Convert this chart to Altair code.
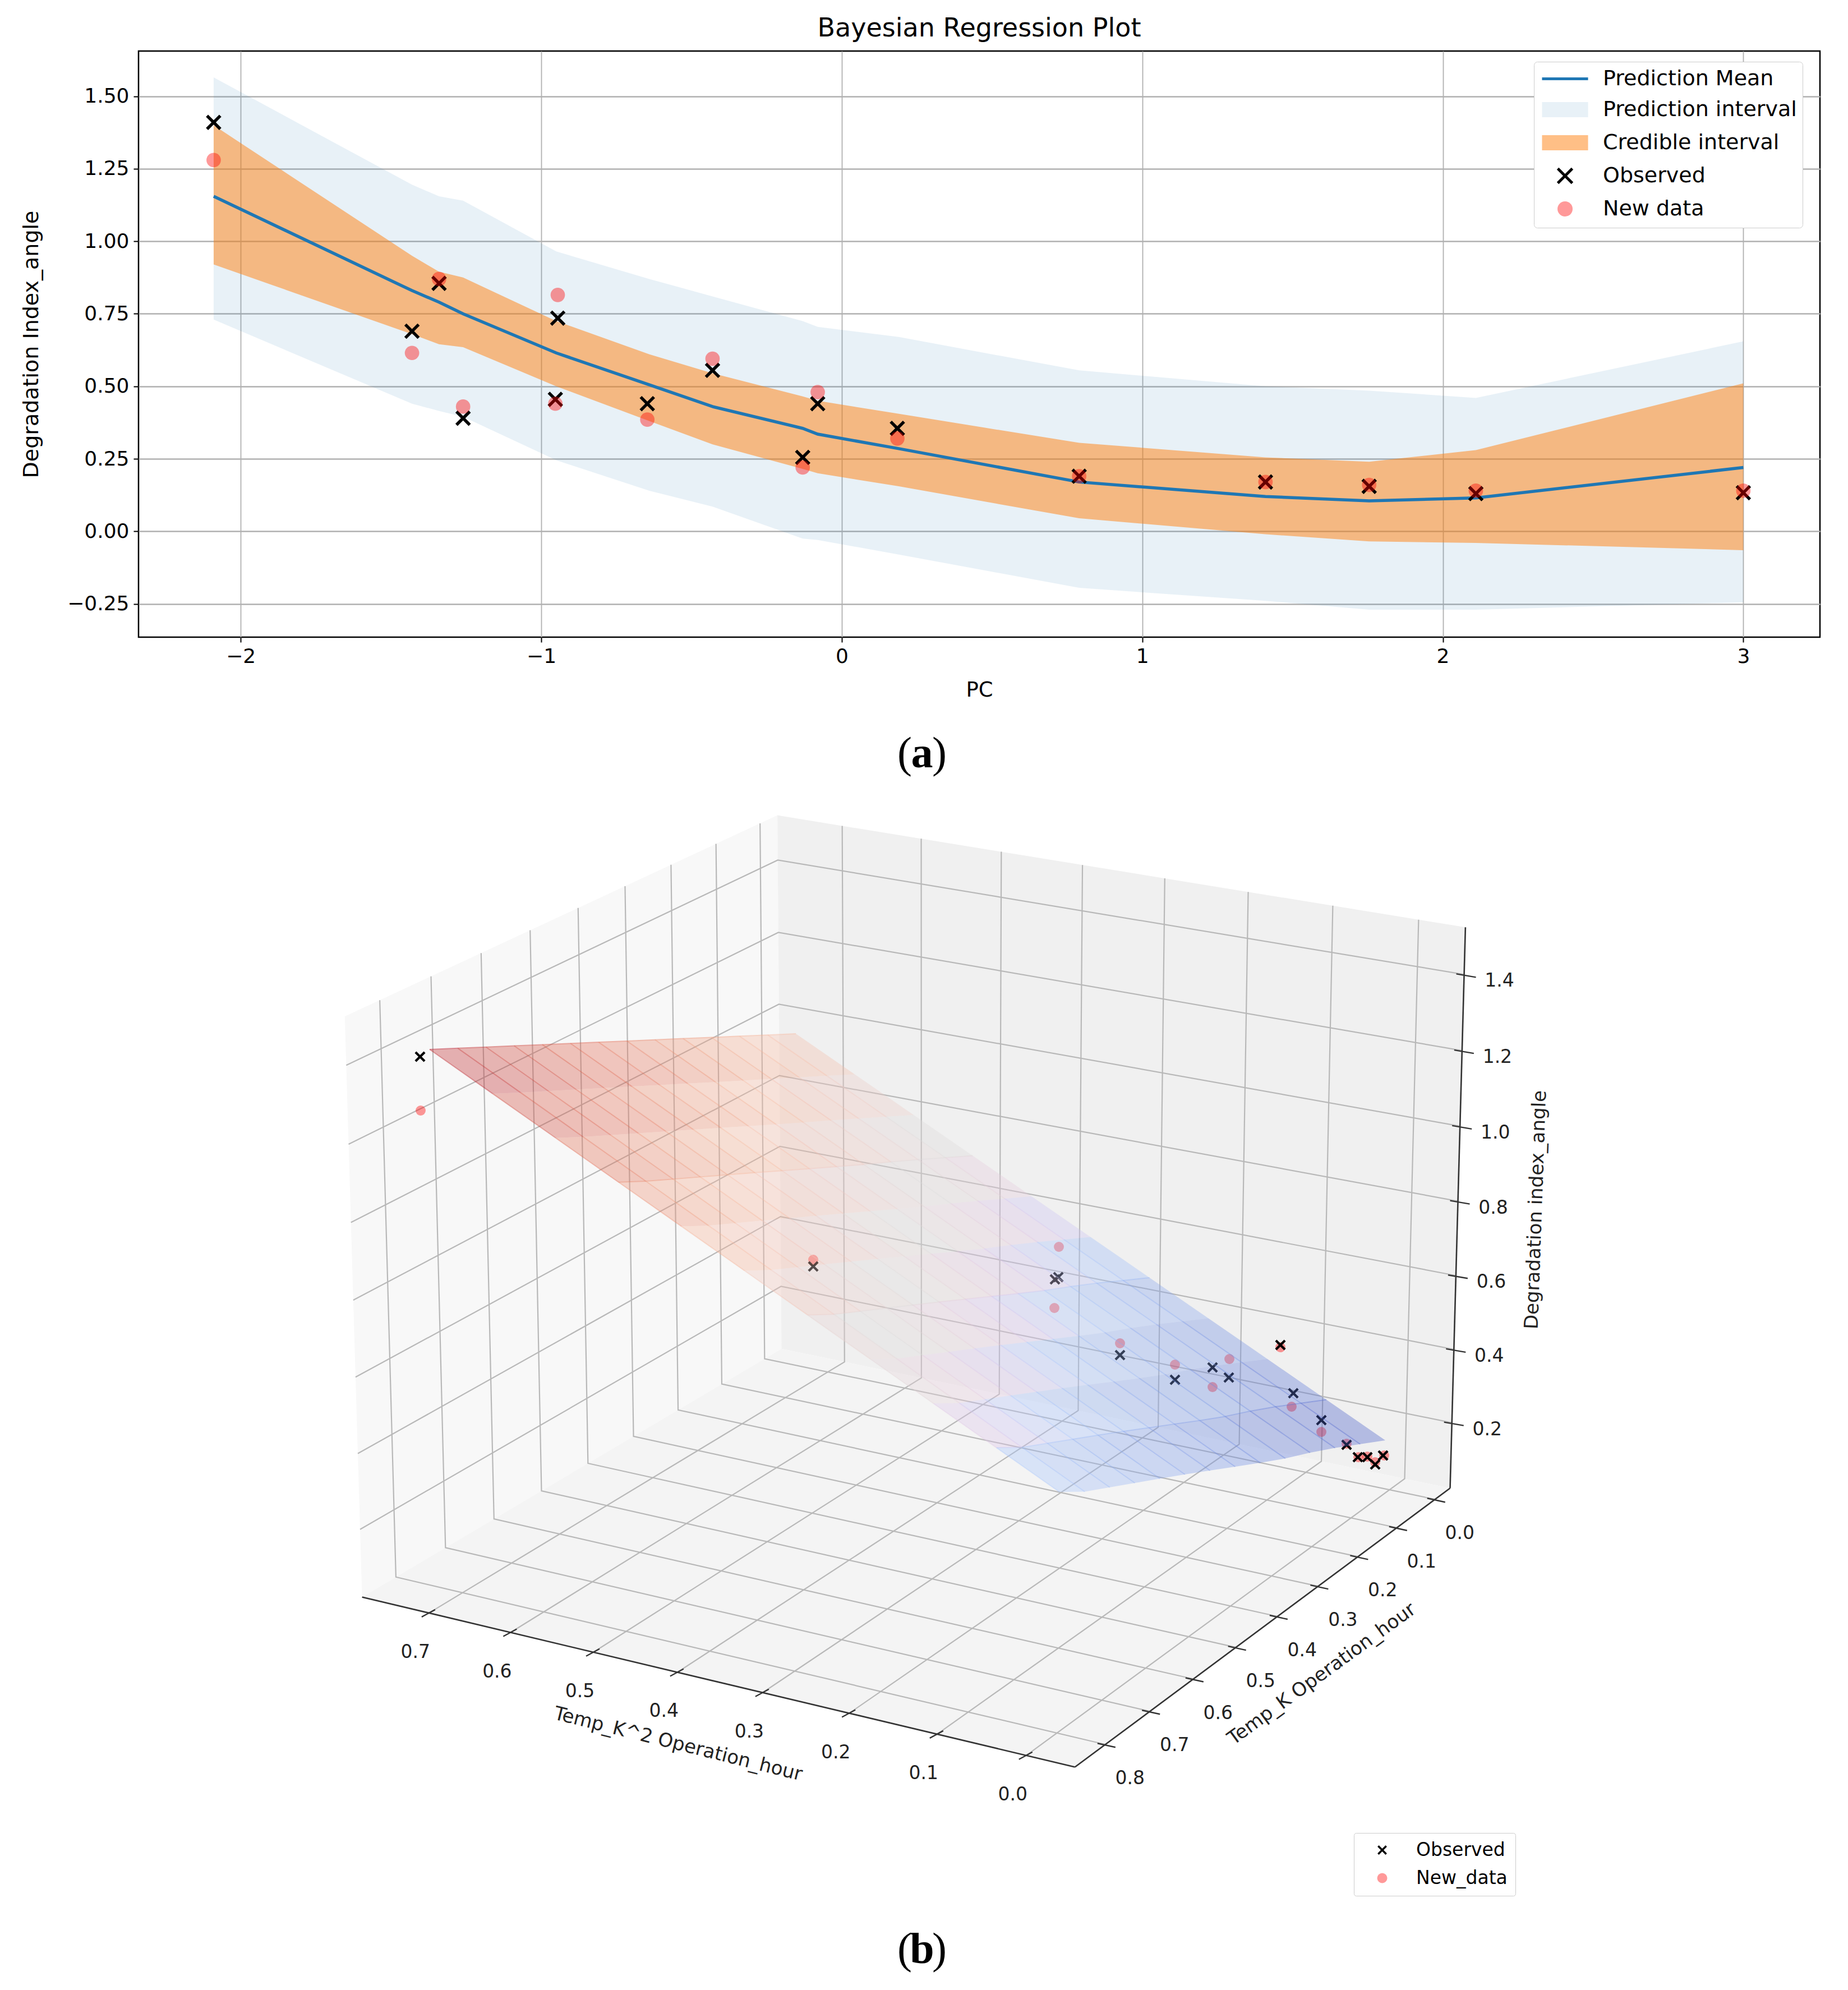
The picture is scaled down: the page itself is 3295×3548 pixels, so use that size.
import altair as alt
import numpy as np
import pandas as pd

alt.data_transformers.disable_max_rows()

# ---------- panel (a) ----------
band_pc = [-2.09, -1.43, -1.34, -1.26, -0.95, -0.64, -0.43, -0.13, -0.08, 0.19, 0.79, 1.41, 1.755, 2.11, 3.0]
mean_y = [1.155, 0.83, 0.79, 0.75, 0.615, 0.505, 0.43, 0.355, 0.335, 0.285, 0.17, 0.12, 0.105, 0.115, 0.22]
cred_hi = [1.40, 0.95, 0.895, 0.875, 0.725, 0.61, 0.545, 0.465, 0.45, 0.405, 0.305, 0.255, 0.24, 0.28, 0.51]
cred_lo = [0.92, 0.68, 0.645, 0.635, 0.50, 0.38, 0.30, 0.215, 0.20, 0.155, 0.045, -0.01, -0.035, -0.04, -0.065]
pred_hi = [1.565, 1.195, 1.155, 1.14, 0.965, 0.87, 0.81, 0.725, 0.705, 0.67, 0.555, 0.50, 0.485, 0.46, 0.655]
pred_lo = [0.73, 0.44, 0.415, 0.395, 0.245, 0.14, 0.085, -0.025, -0.03, -0.08, -0.195, -0.24, -0.27, -0.27, -0.245]
point_pc = [-2.09, -1.43, -1.34, -1.26, -0.945, -0.953, -0.647, -0.43, -0.13, -0.08, 0.185, 0.79, 1.41, 1.755, 2.11, 3.0]
observed_y = [1.41, 0.69, 0.855, 0.39, 0.735, 0.455, 0.44, 0.555, 0.255, 0.44, 0.355, 0.19, 0.17, 0.155, 0.13, 0.133]
new_y = [1.28, 0.615, 0.87, 0.43, 0.815, 0.44, 0.385, 0.595, 0.22, 0.48, 0.32, 0.19, 0.17, 0.16, 0.14, 0.14]
xticks_a = [-2, -1, 0, 1, 2, 3]
yticks_a = [-0.25, 0, 0.25, 0.5, 0.75, 1.0, 1.25, 1.5]

# ---------- panel (b): 3D box and what lies in it ----------
x_lim = [-0.054, 0.783]
y_lim = [-0.04, 0.867]
z_lim = [0.02, 1.523]
x_ticks = [0.0, 0.1, 0.2, 0.3, 0.4, 0.5, 0.6, 0.7]
y_ticks = [0.0, 0.1, 0.2, 0.3, 0.4, 0.5, 0.6, 0.7, 0.8]
z_ticks = [0.2, 0.4, 0.6, 0.8, 1.0, 1.2, 1.4]
# where the corners of the box fall in the picture plane
corner_world = [(0.783, 0.867, 0.02), (-0.054, 0.867, 0.02), (-0.054, -0.04, 0.02), (0.783, -0.04, 0.02),
                (0.783, 0.867, 1.523), (-0.054, -0.04, 1.523), (0.783, -0.04, 1.523)]
corner_plane = [(646, 2848), (1917, 3147), (2586, 2653), (1396, 2400), (617, 1809), (2615, 1651), (1385, 1453)]

# observed and new data, read in the picture plane of the 3D view
obs_u = [750, 1451, 1882, 1888, 1998, 2096, 2163, 2192, 2284, 2307, 2357, 2402, 2422, 2439, 2453, 2467]
obs_v = [1882, 2256, 2279, 2275, 2414, 2458, 2436, 2454, 2396, 2482, 2530, 2574, 2596, 2596, 2609, 2593]
new_u = [751, 1451, 1889, 1881, 1998, 2096, 2163, 2193, 2284, 2304, 2357, 2402, 2423, 2439, 2453, 2469]
new_v = [1978, 2244, 2221, 2330, 2393, 2431, 2471, 2421, 2400, 2506, 2551, 2572, 2596, 2595, 2605, 2593]

# fitted surface outline in the picture plane
surf_top = [(767, 1869), (1420, 1841)]
surf_bottom = [(1890, 2658), (1921, 2660), (2099, 2629), (2281, 2601), (2358, 2583), (2471, 2566)]
surf_heights = {"near_hi": 1.0, "far_hi": 0.65, "near_lo": 0.3, "far_lo": 0.0}
coolwarm = ["#3b4cc0", "#6f8de3", "#aac7fd", "#dddcdc", "#f7b89c", "#e0654f", "#b40426"]

X_PATH = "M-1,-1L1,1M-1,1L1,-1"
FONT = "DejaVu Sans"

# ---- panel (a) chart ----
xs_a = alt.Scale(domain=[-2.34, 3.255], nice=False, zero=False)
ys_a = alt.Scale(domain=[-0.365, 1.656], nice=False, zero=False)
band = pd.DataFrame(dict(pc=band_pc, mean=mean_y, c0=cred_lo, c1=cred_hi, p0=pred_lo, p1=pred_hi))
pts = pd.DataFrame(dict(pc=point_pc, obs=observed_y, new=new_y))

x_a = alt.X("pc:Q", scale=xs_a, title="PC",
            axis=alt.Axis(values=xticks_a, format="d", grid=True, gridColor="#b0b0b0", gridWidth=1.8,
                          labelFont=FONT, labelFontSize=36, labelColor="black", titleFont=FONT,
                          titleFontSize=37, titleFontWeight="normal", titleColor="black", tickSize=9,
                          tickWidth=2, tickColor="black", domain=False, labelPadding=8, titlePadding=24))
y_a = alt.Axis(values=yticks_a, format=".2f", grid=True, gridColor="#b0b0b0", gridWidth=2.4,
               labelFont=FONT, labelFontSize=36, labelColor="black", titleFont=FONT, titleFontSize=38,
               titleFontWeight="normal", titleColor="black", tickSize=9, tickWidth=2, tickColor="black",
               domain=False, labelPadding=8, titlePadding=44)

entries = ["Prediction Mean", "Prediction interval", "Credible interval", "Observed", "New data"]
legend_a = pd.DataFrame({"entry": entries, "pc": [None] * 5, "v": [None] * 5})
leg_a = alt.Legend(title=None, orient="none", legendX=2488, legendY=19, symbolSize=1296, symbolStrokeWidth=5,
                   symbolOffset=25, labelFont=FONT, labelFontSize=38, labelColor="black", labelOffset=47,
                   rowPadding=12, padding=10, fillColor="white", strokeColor="#cccccc", cornerRadius=6,
                   symbolOpacity=1, labelLimit=600)

chart_a = alt.layer(
    alt.Chart(band).mark_area(color="#1f77b4", opacity=0.1).encode(
        x=x_a, y=alt.Y("p0:Q", scale=ys_a, title="Degradation Index_angle", axis=y_a), y2="p1:Q"),
    alt.Chart(band).mark_area(color="#ff7f0e", opacity=0.5).encode(
        x=alt.X("pc:Q", scale=xs_a), y=alt.Y("c0:Q", scale=ys_a), y2="c1:Q"),
    alt.Chart(band).mark_line(color="#1f77b4", strokeWidth=5.5).encode(
        x=alt.X("pc:Q", scale=xs_a), y=alt.Y("mean:Q", scale=ys_a)),
    alt.Chart(pts).mark_point(shape=X_PATH, size=560, stroke="black", strokeWidth=5.5, opacity=1, fill=None).encode(
        x=alt.X("pc:Q", scale=xs_a), y=alt.Y("obs:Q", scale=ys_a)),
    alt.Chart(pts).mark_circle(size=660, color="#ff0000", opacity=0.4).encode(
        x=alt.X("pc:Q", scale=xs_a), y=alt.Y("new:Q", scale=ys_a)),
    alt.Chart(legend_a).mark_point(opacity=1).encode(
        x=alt.X("pc:Q", scale=xs_a), y=alt.Y("v:Q", scale=ys_a),
        shape=alt.Shape("entry:N", legend=leg_a, scale=alt.Scale(domain=entries, range=[
            "M-2.28,0H2.28", "M-2.28,-.75H2.28V.75H-2.28Z", "M-2.28,-.75H2.28V.75H-2.28Z",
            "M-.72,-.72L.72,.72M-.72,.72L.72,-.72",
            "M-.75,0A.75,.75,0,1,1,.75,0A.75,.75,0,1,1,-.75,0Z"])),
        stroke=alt.Stroke("entry:N", legend=leg_a, scale=alt.Scale(domain=entries, range=[
            "#1f77b4", "transparent", "transparent", "black", "transparent"])),
        fill=alt.Fill("entry:N", legend=leg_a, scale=alt.Scale(domain=entries, range=[
            "transparent", "rgba(31,119,180,0.1)", "rgba(255,127,14,0.5)", "transparent", "rgba(255,0,0,0.4)"])),
    ),
).properties(
    width=2998, height=1045,
    title=alt.TitleParams("Bayesian Regression Plot", font=FONT, fontSize=46, fontWeight="normal",
                          color="black", offset=16),
    view=alt.ViewBackground(stroke="black", strokeWidth=2.5),
)

# ---- panel (b) chart ----
W = np.array(corner_world, float)
P = np.array(corner_plane, float)
A_rows = []
for (wx, wy, wz), (pu, pv) in zip(W, P):
    A_rows.append([wx, wy, wz, 1, 0, 0, 0, 0, -pu * wx, -pu * wy, -pu * wz, -pu])
    A_rows.append([0, 0, 0, 0, wx, wy, wz, 1, -pv * wx, -pv * wy, -pv * wz, -pv])
cam = np.linalg.svd(np.array(A_rows))[2][-1].reshape(3, 4)


def project(x, y, z):
    h = cam @ np.array([x, y, z, 1.0])
    return h[0] / h[2], h[1] / h[2]


def quad_rows(verts, key, **extra):
    """Turn a convex polygon into the rows of one area mark."""
    verts = list(verts)
    edges = list(zip(verts, verts[1:] + verts[:1]))
    rows = []
    for xv in sorted({round(v[0], 3) for v in verts}):
        ys = []
        for (x0, y0), (x1, y1) in edges:
            lo, hi = min(x0, x1) - 1e-3, max(x0, x1) + 1e-3
            if lo <= xv <= hi:
                if abs(x1 - x0) < 1e-6:
                    ys += [y0, y1]
                else:
                    ys.append(y0 + (y1 - y0) * (xv - x0) / (x1 - x0))
        rows.append(dict(u=xv, lo=min(ys), hi=max(ys), key=key, **extra))
    return rows


x0, x1 = x_lim
y0, y1 = y_lim
z0, z1 = z_lim
pane_rows = []
pane_rows += quad_rows([project(x1, y1, z0), project(x1, y0, z0), project(x1, y0, z1), project(x1, y1, z1)], "left", c="#f8f8f8")
pane_rows += quad_rows([project(x1, y0, z0), project(x0, y0, z0), project(x0, y0, z1), project(x1, y0, z1)], "right", c="#f0f0f0")
pane_rows += quad_rows([project(x1, y1, z0), project(x0, y1, z0), project(x0, y0, z0), project(x1, y0, z0)], "floor", c="#f4f4f4")

grid_rows = []
def add_poly(rows, key, pts3):
    for i, p in enumerate(pts3):
        u, v = project(*p)
        rows.append(dict(u=u, v=v, key=key, i=i))

for t in x_ticks:
    add_poly(grid_rows, f"x{t}", [(t, y1, z0), (t, y0, z0), (t, y0, z1)])
for t in y_ticks:
    add_poly(grid_rows, f"y{t}", [(x0, t, z0), (x1, t, z0), (x1, t, z1)])
for t in z_ticks:
    add_poly(grid_rows, f"z{t}", [(x1, y1, t), (x1, y0, t), (x0, y0, t)])

axis_rows = []
add_poly(axis_rows, "xe", [(x1, y1, z0), (x0, y1, z0)])
add_poly(axis_rows, "ye", [(x0, y1, z0), (x0, y0, z0)])
add_poly(axis_rows, "ze", [(x0, y0, z0), (x0, y0, z1)])

tick_rows, label_rows = [], []
for t in x_ticks:
    u, v = project(t, y1, z0)
    tick_rows.append(dict(u=u + 11, v=v - 6, u2=u - 13, v2=v + 7))
    label_rows.append(dict(u=u - 24, v=v + 70, s=f"{t:.1f}"))
for t in y_ticks:
    u, v = project(x0, t, z0)
    tick_rows.append(dict(u=u - 14, v=v - 2, u2=u + 18, v2=v + 5))
    label_rows.append(dict(u=u + 44, v=v + 61, s=f"{t:.1f}"))
for t in z_ticks:
    u, v = project(x0, y0, t)
    tick_rows.append(dict(u=u - 14, v=v - 1, u2=u + 21, v2=v + 5))
    label_rows.append(dict(u=u + 63, v=v + 12, s=f"{t:.1f}"))

# fitted surface
NU, NV = 10, 13
bu = [p[0] for p in surf_bottom]
bv = [p[1] for p in surf_bottom]
blen = np.r_[0, np.cumsum(np.hypot(np.diff(bu), np.diff(bv)))]
blen = blen / blen[-1]


def surf(a, b):
    tu = surf_top[0][0] + (surf_top[1][0] - surf_top[0][0]) * b
    tv = surf_top[0][1] + (surf_top[1][1] - surf_top[0][1]) * b
    eu, ev = np.interp(b, blen, bu), np.interp(b, blen, bv)
    return tu + (eu - tu) * a, tv + (ev - tv) * a


def height(a, b):
    h = surf_heights
    return (1 - a) * (1 - b) * h["near_hi"] + (1 - a) * b * h["far_hi"] + a * (1 - b) * h["near_lo"] + a * b * h["far_lo"]


surf_rows, mesh_rows = [], []
for i in range(NU):
    for j in range(NV):
        a0, a1, b0, b1 = i / NU, (i + 1) / NU, j / NV, (j + 1) / NV
        surf_rows += quad_rows([surf(a0, b0), surf(a0, b1), surf(a1, b1), surf(a1, b0)], f"{i}-{j}",
                               h=height((a0 + a1) / 2, (b0 + b1) / 2))
        pa, pb, pc_ = surf(a0, b0), surf(a1, b0), surf(a0, b1)
        mesh_rows.append(dict(u=pa[0], v=pa[1], u2=pb[0], v2=pb[1], h=height(a0 + 0.5 / NU, b0)))
        if i % 3 == 0:
            mesh_rows.append(dict(u=pa[0], v=pa[1], u2=pc_[0], v2=pc_[1], h=height(a0, b0 + 0.5 / NV)))

su = alt.Scale(domain=[248, 3246], nice=False, zero=False)
sv = alt.Scale(domain=[1134, 3540], nice=False, zero=False, reverse=True)
U = alt.X("u:Q", scale=su, axis=None)
V = alt.Y("v:Q", scale=sv, axis=None)
LO = alt.Y("lo:Q", scale=sv, axis=None)
HS = alt.Color("h:Q", scale=alt.Scale(domain=[0, 1], range=coolwarm), legend=None)

obs_df = pd.DataFrame(dict(u=obs_u, v=obs_v, entry="Observed"))
new_df = pd.DataFrame(dict(u=new_u, v=new_v, entry="New_data"))
entries_b = ["Observed", "New_data"]
legend_b = pd.DataFrame({"entry": entries_b, "u": [None] * 2, "v": [None] * 2})
leg_b = alt.Legend(title=None, orient="none", legendX=2167, legendY=2132, symbolSize=324, symbolStrokeWidth=3.5,
                   symbolOffset=20, labelFont=FONT, labelFontSize=33, labelColor="black", labelOffset=44,
                   rowPadding=16, padding=14, fillColor="white", strokeColor="#cccccc", cornerRadius=4,
                   symbolOpacity=1, labelLimit=600)

caption = []
for base, s in [(1343, "a"), (3475, "b")]:
    caption.append(dict(u=1645, v=base, s=s, l="(", r=")"))
cap = pd.DataFrame(caption)
cap_font = dict(font="Liberation Serif", fontSize=78, color="black", baseline="middle")

texts = dict(font=FONT, color="#222222", baseline="middle", align="center")

chart_b = alt.layer(
    alt.Chart(pd.DataFrame(pane_rows)).mark_area(strokeWidth=0).encode(
        x=U, y=LO, y2="hi:Q", detail="key:N", color=alt.Color("c:N", scale=None, legend=None)),
    alt.Chart(pd.DataFrame(grid_rows)).mark_line(color="#b8b8b8", strokeWidth=2.2).encode(
        x=U, y=V, detail="key:N", order="i:Q"),
    alt.Chart(pd.DataFrame(axis_rows)).mark_line(color="#333333", strokeWidth=2.6).encode(
        x=U, y=V, detail="key:N", order="i:Q"),
    alt.Chart(pd.DataFrame(tick_rows)).mark_rule(color="#333333", strokeWidth=2.4).encode(
        x=U, y=V, x2="u2:Q", y2="v2:Q"),
    alt.Chart(new_df).mark_circle(size=320, color="#ff0000", opacity=0.4).encode(x=U, y=V),
    alt.Chart(obs_df).mark_point(shape=X_PATH, size=260, stroke="black", strokeWidth=4.2, fill=None, opacity=1).encode(x=U, y=V),
    alt.Chart(pd.DataFrame(surf_rows)).mark_area(opacity=0.36, strokeWidth=0).encode(
        x=U, y=LO, y2="hi:Q", detail="key:N", color=HS),
    alt.Chart(pd.DataFrame(mesh_rows)).mark_rule(strokeWidth=2, opacity=0.38).encode(
        x=U, y=V, x2="u2:Q", y2="v2:Q", color=HS),
    alt.Chart(pd.DataFrame(label_rows)).mark_text(fontSize=33, **texts).encode(x=U, y=V, text="s:N"),
    alt.Chart(pd.DataFrame([dict(u=1210, v=3108, s="Temp_K^2 Operation_hour")])).mark_text(
        fontSize=34, angle=14, **texts).encode(x=U, y=V, text="s:N"),
    alt.Chart(pd.DataFrame([dict(u=2358, v=2983, s="Temp_K Operation_hour")])).mark_text(
        fontSize=34, angle=324, **texts).encode(x=U, y=V, text="s:N"),
    alt.Chart(pd.DataFrame([dict(u=2740, v=2155, s="Degradation index_angle")])).mark_text(
        fontSize=34, angle=272, **texts).encode(x=U, y=V, text="s:N"),
    alt.Chart(cap).mark_text(align="right", dx=-18, **cap_font).encode(x=U, y=V, text="l:N"),
    alt.Chart(cap).mark_text(align="center", fontWeight="bold", **cap_font).encode(x=U, y=V, text="s:N"),
    alt.Chart(cap).mark_text(align="left", dx=18, **cap_font).encode(x=U, y=V, text="r:N"),
    alt.Chart(legend_b).mark_point(opacity=1).encode(
        x=U, y=V,
        shape=alt.Shape("entry:N", legend=leg_b, scale=alt.Scale(domain=entries_b, range=["M-.8,-.8L.8,.8M-.8,.8L.8,-.8", "circle"])),
        stroke=alt.Stroke("entry:N", legend=leg_b, scale=alt.Scale(domain=entries_b, range=["black", "transparent"])),
        fill=alt.Fill("entry:N", legend=leg_b, scale=alt.Scale(domain=entries_b, range=["transparent", "rgba(255,0,0,0.4)"])),
    ),
).properties(width=2998, height=2406).resolve_scale(color="independent", fill="independent", stroke="independent", shape="independent")

chart = alt.vconcat(chart_a, chart_b, spacing=0, bounds="flush").properties(
    padding={"left": 28, "top": 18, "right": 0, "bottom": 0}, background="white"
).configure_view(stroke=None)

chart.save("out.html", embed_options={"renderer": "svg", "actions": False})
